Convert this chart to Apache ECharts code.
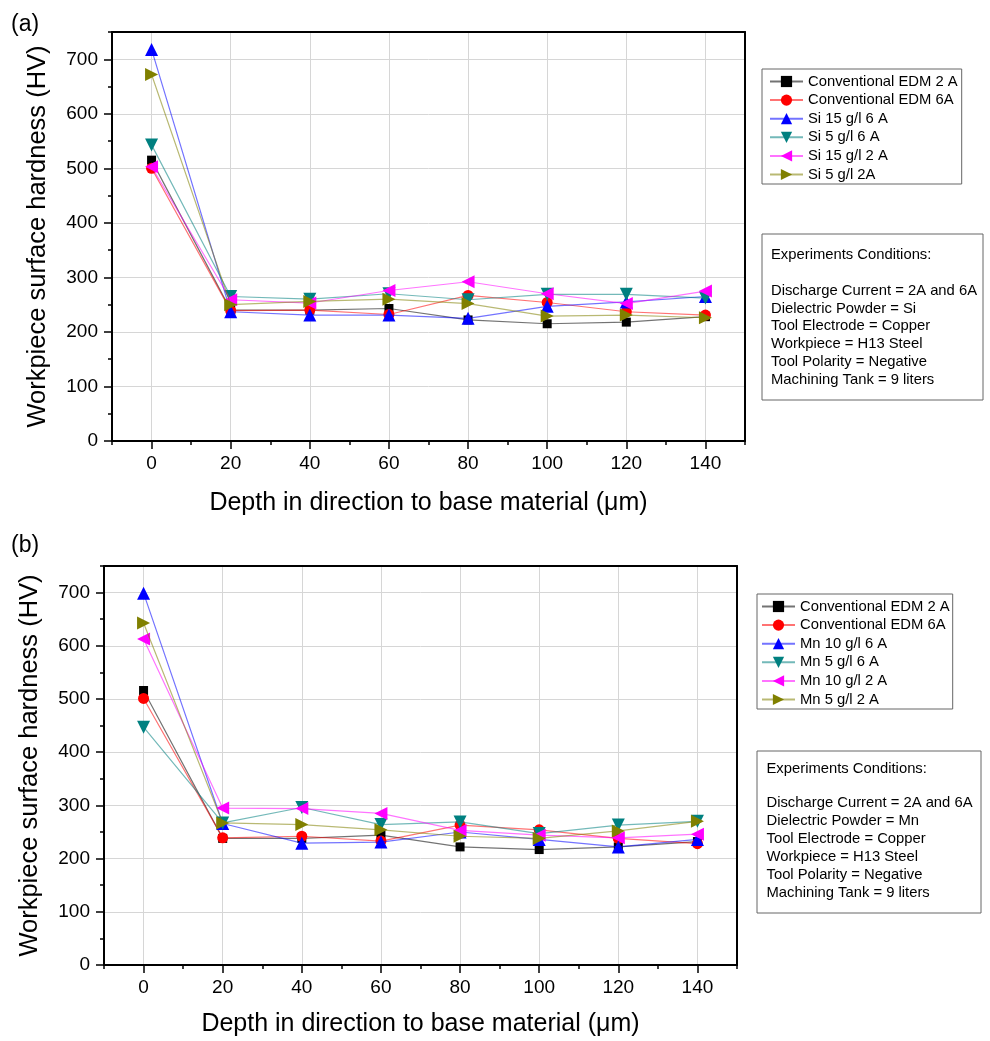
<!DOCTYPE html>
<html>
<head>
<meta charset="utf-8">
<script src="https://cdn.jsdelivr.net/npm/echarts@6/dist/echarts.min.js"></script>
<style>html,body{margin:0;padding:0;background:#fff}#c{width:990px;height:1041px}</style>
</head>
<body>
<div id="c"></div>
<script>
// ---- data ----
const depth = [0, 20, 40, 60, 80, 100, 120, 140];
const xTickLabels = [0, 20, 40, 60, 80, 100, 120, 140];
const yTickLabels = [0, 100, 200, 300, 400, 500, 600, 700];

const namesA = ['Conventional EDM 2 A', 'Conventional EDM 6A', 'Si 15 g/l 6 A', 'Si 5 g/l 6 A', 'Si 15 g/l 2 A', 'Si 5 g/l 2A'];
const convEDM2A_a = [515, 240, 240, 243, 222, 215, 218, 228];
const convEDM6A_a = [500, 239, 240, 232, 267, 254, 237, 231];
const si15g6A = [718, 237, 231, 231, 225, 247, 255, 265];
const si5g6A = [543, 265, 260, 270, 259, 269, 269, 262];
const si15g2A = [503, 259, 253, 276, 292, 270, 252, 275];
const si5g2A = [672, 250, 256, 260, 252, 229, 231, 226];

const namesB = ['Conventional EDM 2 A', 'Conventional EDM 6A', 'Mn 10 g/l 6 A', 'Mn 5 g/l 6 A', 'Mn 10 g/l 2 A', 'Mn 5 g/l 2 A'];
const convEDM2A_b = [516, 238, 238, 244, 222, 217, 222, 232];
const convEDM6A_b = [501, 239, 242, 233, 263, 254, 238, 228];
const mn10g6A = [699, 266, 229, 231, 250, 236, 222, 236];
const mn5g6A = [447, 267, 296, 264, 269, 247, 263, 270];
const mn10g2A = [613, 295, 294, 285, 253, 244, 239, 246];
const mn5g2A = [643, 267, 264, 254, 242, 238, 252, 270];

const condHeader = 'Experiments Conditions:';
const condA = ['Discharge Current = 2A and 6A', 'Dielectric Powder = Si', 'Tool Electrode = Copper', 'Workpiece = H13 Steel', 'Tool Polarity = Negative', 'Machining Tank = 9 liters'];
const condB = ['Discharge Current = 2A and 6A', 'Dielectric Powder = Mn', 'Tool Electrode = Copper', 'Workpiece = H13 Steel', 'Tool Polarity = Negative', 'Machining Tank = 9 liters'];

const xTitle = 'Depth in direction to base material (\u03bcm)';
const yTitle = 'Workpiece surface hardness (HV)';

// ---- styling ----
const FONT = '"Liberation Sans", Arial, sans-serif';
const colors = ['#000000', '#ff0000', '#0000ff', '#008080', '#ff00ff', '#808000'];
const symbols = ['rect', 'circle', 'triangle', 'triangle', 'triangle', 'triangle'];
const rotates = [0, 0, 0, 180, 90, -90];
const sizes = [9, 11, 13, 13, 13, 13];

function pairs(vals) { return depth.map((d, i) => [d, vals[i]]); }

function makeSeries(names, valsList, axisIdx) {
  return names.map((n, i) => ({
    type: 'line', name: n, xAxisIndex: axisIdx, yAxisIndex: axisIdx,
    data: pairs(valsList[i]),
    symbol: symbols[i], symbolRotate: rotates[i], symbolSize: sizes[i],
    showSymbol: true, silent: true, animation: false,
    itemStyle: { color: colors[i], opacity: 1 },
    lineStyle: { color: colors[i], width: 1.2, opacity: 0.55 },
    z: 3 + i
  }));
}

function xAxes(gi, nameGap) {
  return [
    { gridIndex: gi, type: 'value', min: -10, max: 150, position: 'bottom',
      name: xTitle, nameLocation: 'middle', nameGap: nameGap,
      nameTextStyle: { fontSize: 25, color: '#000', fontFamily: FONT },
      axisLine: { show: true, onZero: false, lineStyle: { color: '#000', width: 2 } },
      axisTick: { show: true, customValues: xTickLabels, length: 8, lineStyle: { color: '#000', width: 1.5 } },
      axisLabel: { show: true, customValues: xTickLabels, fontSize: 19, color: '#000', fontFamily: FONT, margin: 13 },
      splitLine: { show: true, lineStyle: { color: '#d6d6d6', width: 1 } } },
    { gridIndex: gi, type: 'value', min: -10, max: 150, interval: 10, position: 'bottom',
      axisLine: { show: false, onZero: false },
      axisTick: { show: true, length: 4, lineStyle: { color: '#000', width: 1.5 } },
      axisLabel: { show: false }, splitLine: { show: false } },
    { gridIndex: gi, type: 'value', min: -10, max: 150, position: 'top',
      axisLine: { show: true, onZero: false, lineStyle: { color: '#000', width: 2 } },
      axisTick: { show: false }, axisLabel: { show: false }, splitLine: { show: false } }
  ];
}
function yAxes(gi) {
  return [
    { gridIndex: gi, type: 'value', min: 0, max: 750, position: 'left',
      name: yTitle, nameLocation: 'middle', nameGap: 61,
      nameTextStyle: { fontSize: 25.5, color: '#000', fontFamily: FONT },
      axisLine: { show: true, onZero: false, lineStyle: { color: '#000', width: 2 } },
      axisTick: { show: true, customValues: yTickLabels, length: 8, lineStyle: { color: '#000', width: 1.5 } },
      axisLabel: { show: true, customValues: yTickLabels, fontSize: 19, color: '#000', fontFamily: FONT, margin: 14 },
      splitLine: { show: true, lineStyle: { color: '#d6d6d6', width: 1 } } },
    { gridIndex: gi, type: 'value', min: 0, max: 750, interval: 50, position: 'left',
      axisLine: { show: false, onZero: false },
      axisTick: { show: true, length: 4, lineStyle: { color: '#000', width: 1.5 } },
      axisLabel: { show: false }, splitLine: { show: false } },
    { gridIndex: gi, type: 'value', min: 0, max: 750, position: 'right',
      axisLine: { show: true, onZero: false, lineStyle: { color: '#000', width: 2 } },
      axisTick: { show: false }, axisLabel: { show: false }, splitLine: { show: false } }
  ];
}

function legend(names, left, top, padding) {
  return {
    orient: 'vertical', left: left, top: top, data: names,
    itemWidth: 33, itemHeight: 14, itemGap: 3.6, padding: padding,
    borderColor: '#666', borderWidth: 1, backgroundColor: '#fff',
    selectedMode: false,
    textStyle: { fontSize: 14.8, color: '#000', fontFamily: FONT }
  };
}

function condBox(x, y, w, h, tx, headerY, bodyY, lh, lines) {
  return [
    { type: 'rect', shape: { x: x, y: y, width: w, height: h },
      style: { fill: '#fff', stroke: '#666', lineWidth: 1 }, z: 10 },
    { type: 'text', x: tx, y: headerY, z: 11,
      style: { text: condHeader, font: '14.8px ' + FONT, fill: '#000', verticalAlign: 'middle' } },
    { type: 'text', x: tx, y: bodyY - lh / 2, z: 11,
      style: { text: lines.join('\n'), font: '14.8px ' + FONT, lineHeight: lh, fill: '#000', verticalAlign: 'top' } }
  ];
}

const option = {
  animation: false,
  backgroundColor: '#fff',
  grid: [
    { left: 112, top: 32, width: 633, height: 409 },
    { left: 104, top: 566, width: 633, height: 399 }
  ],
  xAxis: xAxes(0, 50).concat(xAxes(1, 47)),
  yAxis: yAxes(0).concat(yAxes(1)),
  legend: [
    legend(namesA, 762, 69, [5, 4, 2, 7]),
    legend(namesB, 757, 594, [5, 3, 2, 4])
  ],
  series: makeSeries(namesA, [convEDM2A_a, convEDM6A_a, si15g6A, si5g6A, si15g2A, si5g2A], 0)
    .concat(makeSeries(namesB, [convEDM2A_b, convEDM6A_b, mn10g6A, mn5g6A, mn10g2A, mn5g2A], 3)),
  graphic: [
    { type: 'text', left: 11, top: 13, style: { text: '(a)', font: '23px ' + FONT, fill: '#000' } },
    { type: 'text', left: 11, top: 534, style: { text: '(b)', font: '23px ' + FONT, fill: '#000' } }
  ].concat(condBox(762, 234, 221, 166, 771, 255, 290.7, 17.8, condA))
   .concat(condBox(757, 751, 224, 162, 766.5, 769.3, 802.7, 18, condB))
};

const chart = echarts.init(document.getElementById('c'), null, { renderer: 'canvas' });
chart.setOption(option);
</script>
</body>
</html>
